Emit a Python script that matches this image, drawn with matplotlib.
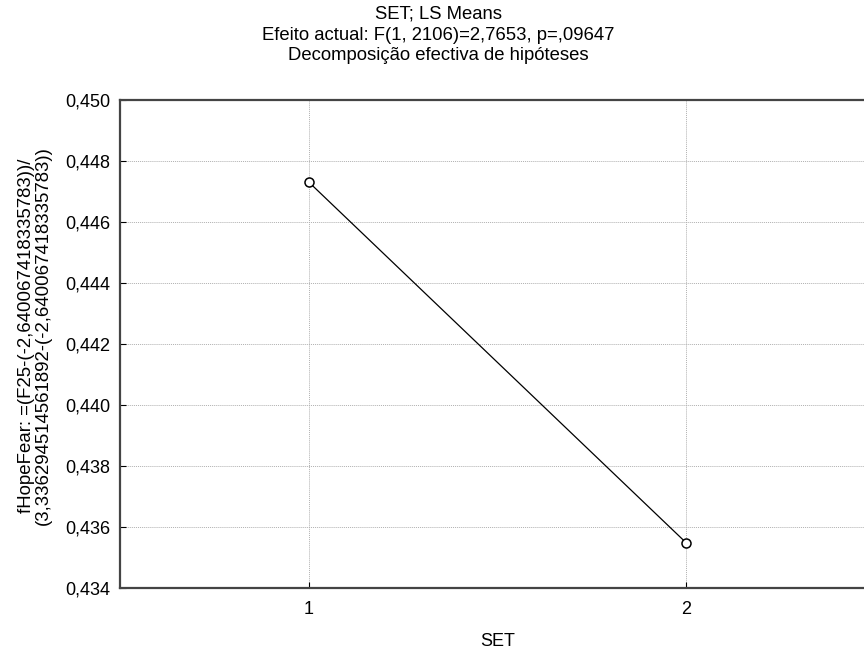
import matplotlib
matplotlib.use("Agg")
import matplotlib.pyplot as plt
from matplotlib.ticker import FuncFormatter

plt.rcParams["font.family"] = ["Liberation Sans", "DejaVu Sans"]

# LS means per SET level
set_levels = [1, 2]
ls_means = [0.44731, 0.43548]

y_ticks = [0.434, 0.436, 0.438, 0.440, 0.442, 0.444, 0.446, 0.448, 0.450]

title_lines = [
    "SET; LS Means",
    "Efeito actual: F(1, 2106)=2,7653, p=,09647",
    "Decomposição efectiva de hipóteses",
]
y_label = ("fHopeFear: =(F25-(-2,640067418335783))/\n"
           "(3,336294514561892-(-2,640067418335783))")

fig = plt.figure(figsize=(8.64, 6.55), dpi=100)
ax = fig.add_axes([120 / 864, 1 - 588 / 655, 755 / 864, 488 / 655])

ax.plot(set_levels, ls_means, color="black", linewidth=0.9,
        marker="o", markersize=6.5, markerfacecolor="white",
        markeredgecolor="black", markeredgewidth=1.1)

ax.set_xlim(0.5, 2.5)
ax.set_ylim(0.434, 0.450)
ax.set_xticks(set_levels)
ax.set_yticks(y_ticks)
ax.yaxis.set_major_formatter(FuncFormatter(lambda v, p: f"{v:.3f}".replace(".", ",")))
ax.tick_params(direction="in", length=4, width=0.8, labelsize=13, colors="black")
ax.tick_params(axis="y", pad=7)
ax.tick_params(axis="x", pad=9)
ax.grid(True, color="#b0b0b0", linestyle=(0, (1, 1)), linewidth=0.7)
ax.set_axisbelow(True)
for side in ["left", "bottom", "top"]:
    ax.spines[side].set_linewidth(1.6)
    ax.spines[side].set_color("#444444")
ax.spines["right"].set_visible(False)

ax.set_xlabel("SET", fontsize=13, labelpad=11)

# axis title sits centred on the y axis, two lines
fig.text(35 / 864, 1 - 336 / 655, y_label, rotation=90, ha="center", va="center",
         multialignment="center", fontsize=13.4, linespacing=0.95)

for i, line in enumerate(title_lines):
    fig.text(0.507, 1 - (14 + 21 * i) / 655, line, ha="center", va="center", fontsize=13.3)

fig.savefig("out.png", dpi=100)
